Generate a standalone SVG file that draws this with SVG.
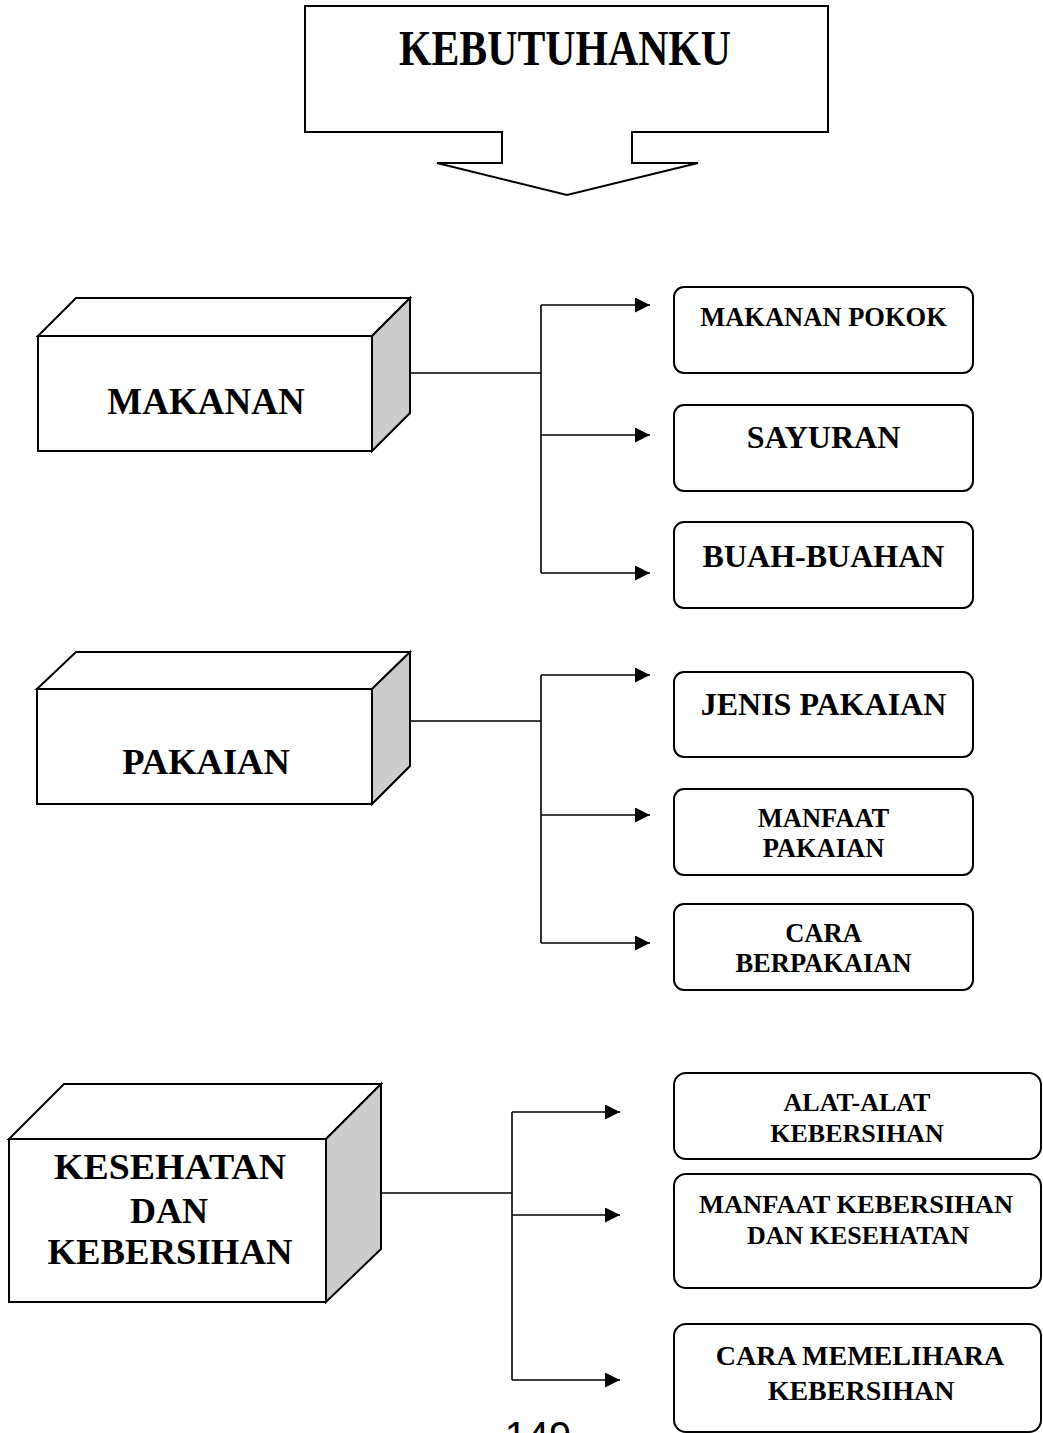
<svg xmlns="http://www.w3.org/2000/svg" width="1043" height="1433" viewBox="0 0 1043 1433">
<style>
.shape{fill:#fff;stroke:#000;stroke-width:2;stroke-linejoin:miter}
.side{fill:#cccccc;stroke:#000;stroke-width:2;stroke-linejoin:miter}
.box{fill:#fff;stroke:#000;stroke-width:2}
.conn{fill:none;stroke:#000;stroke-width:1.6}
.t{font-family:"Liberation Serif","Times New Roman",serif;font-weight:bold;fill:#000;text-anchor:middle}
.pg{font-family:"Liberation Sans",Arial,sans-serif;fill:#000;text-anchor:middle}
</style>
<defs>
<marker id="arr" viewBox="0 0 15 15" markerWidth="15" markerHeight="15" markerUnits="userSpaceOnUse" refX="15" refY="7.5" orient="auto">
<path d="M0,0 L15,7.5 L0,15 Z" fill="#000"/>
</marker>
</defs>
<rect width="1043" height="1433" fill="#fff"/>

<g id="kebutuhanku">
<path class="shape" d="M305,6 H828 V132 H632 V163 H698 L567,195 L437,163 H502 V132 H305 Z"/>
<text class="t" x="565" y="65" font-size="50" textLength="332" lengthAdjust="spacingAndGlyphs">KEBUTUHANKU</text>
</g>

<g id="makanan">
<path class="shape" d="M38,336 L76,298 H410 L372,336 Z"/>
<path class="side" d="M372,336 L410,298 V413 L372,451 Z"/>
<rect class="shape" x="38" y="336" width="334" height="115"/>
<text class="t" x="206" y="414" font-size="37">MAKANAN</text>
</g>

<g id="makanan-pokok">
<rect class="box" x="674" y="287" width="299" height="86" rx="10"/>
<text class="t" x="823.5" y="326" font-size="26.5">MAKANAN POKOK</text>
</g>
<g id="sayuran">
<rect class="box" x="674" y="405" width="299" height="86" rx="10"/>
<text class="t" x="823.5" y="448" font-size="32">SAYURAN</text>
</g>
<g id="buah-buahan">
<rect class="box" x="674" y="522" width="299" height="86" rx="10"/>
<text class="t" x="823.5" y="567" font-size="32">BUAH-BUAHAN</text>
</g>

<g id="pakaian">
<path class="shape" d="M37,689 L76,652 H410 L372,689 Z"/>
<path class="side" d="M372,689 L410,652 V766 L372,804 Z"/>
<rect class="shape" x="37" y="689" width="335" height="115"/>
<text class="t" x="206" y="774" font-size="36.5">PAKAIAN</text>
</g>

<g id="jenis-pakaian">
<rect class="box" x="674" y="672" width="299" height="85" rx="10"/>
<text class="t" x="823.5" y="715" font-size="32">JENIS PAKAIAN</text>
</g>
<g id="manfaat-pakaian">
<rect class="box" x="674" y="789" width="299" height="86" rx="10"/>
<text class="t" x="823.5" y="827" font-size="26.5">MANFAAT</text>
<text class="t" x="823.5" y="857" font-size="26.5">PAKAIAN</text>
</g>
<g id="cara-berpakaian">
<rect class="box" x="674" y="904" width="299" height="86" rx="10"/>
<text class="t" x="823.5" y="942" font-size="26.5">CARA</text>
<text class="t" x="823.5" y="972" font-size="26.5">BERPAKAIAN</text>
</g>

<g id="kesehatan">
<path class="shape" d="M9,1139 L64,1084 H381 L326,1139 Z"/>
<path class="side" d="M326,1139 L381,1084 V1249 L326,1302 Z"/>
<rect class="shape" x="9" y="1139" width="317" height="163"/>
<text class="t" x="170" y="1179" font-size="36" textLength="232" lengthAdjust="spacingAndGlyphs">KESEHATAN</text>
<text class="t" x="169" y="1223" font-size="36">DAN</text>
<text class="t" x="170" y="1264" font-size="36" textLength="245" lengthAdjust="spacingAndGlyphs">KEBERSIHAN</text>
</g>

<g id="alat-alat">
<rect class="box" x="674" y="1073" width="367" height="86" rx="12"/>
<text class="t" x="857" y="1111" font-size="26">ALAT-ALAT</text>
<text class="t" x="857" y="1142" font-size="26">KEBERSIHAN</text>
</g>
<g id="manfaat-kebersihan">
<rect class="box" x="674" y="1174" width="367" height="114" rx="12"/>
<text class="t" x="856" y="1213" font-size="26" textLength="314" lengthAdjust="spacingAndGlyphs">MANFAAT KEBERSIHAN</text>
<text class="t" x="858" y="1244" font-size="26">DAN KESEHATAN</text>
</g>
<g id="cara-memelihara">
<rect class="box" x="674" y="1324" width="367" height="108" rx="12"/>
<text class="t" x="860" y="1365" font-size="28">CARA MEMELIHARA</text>
<text class="t" x="861" y="1400" font-size="28">KEBERSIHAN</text>
</g>

<g id="connectors">
<path class="conn" d="M410,373 H541 M541,305 V573"/>
<path class="conn" d="M541,305 H650" marker-end="url(#arr)"/>
<path class="conn" d="M541,435 H650" marker-end="url(#arr)"/>
<path class="conn" d="M541,573 H650" marker-end="url(#arr)"/>
<path class="conn" d="M410,721 H541 M541,675 V943"/>
<path class="conn" d="M541,675 H650" marker-end="url(#arr)"/>
<path class="conn" d="M541,815 H650" marker-end="url(#arr)"/>
<path class="conn" d="M541,943 H650" marker-end="url(#arr)"/>
<path class="conn" d="M381,1193 H512 M512,1112 V1380"/>
<path class="conn" d="M512,1112 H620" marker-end="url(#arr)"/>
<path class="conn" d="M512,1215 H620" marker-end="url(#arr)"/>
<path class="conn" d="M512,1380 H620" marker-end="url(#arr)"/>
</g>

<text class="pg" x="538" y="1450" font-size="40">149</text>
</svg>
